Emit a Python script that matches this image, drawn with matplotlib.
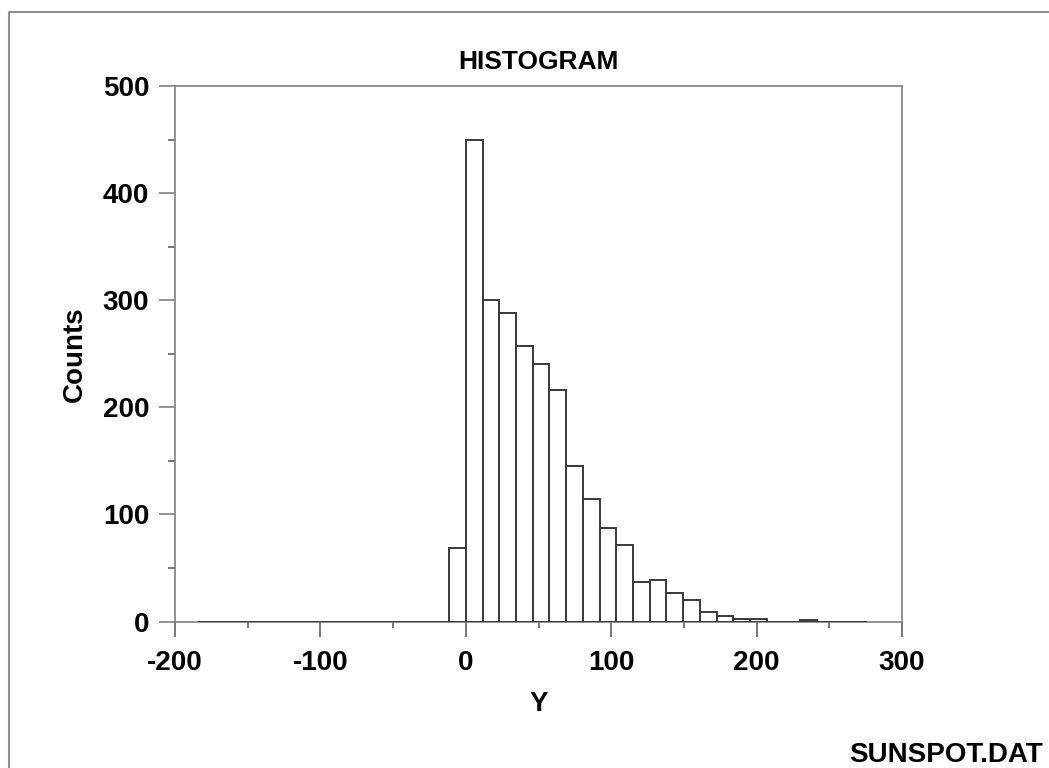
import numpy as np
import matplotlib
matplotlib.use("Agg")
import matplotlib.pyplot as plt
from matplotlib.lines import Line2D
from matplotlib.ticker import MultipleLocator

plt.rcParams['font.family'] = ['Liberation Sans', 'DejaVu Sans']
plt.rcParams['font.weight'] = 'bold'
plt.rcParams['axes.unicode_minus'] = False

# histogram of SUNSPOT.DAT, class width ~11.5, first class starts at -184
bin_width = 11.5
first_bin = -16
counts = [0, 0, 0, 0, 0, 0, 0, 0, 0, 0, 0, 0, 0, 0, 0,
          69, 450, 300, 288, 257, 240, 216, 145, 114, 87, 71,
          37, 39, 27, 20, 9, 5, 2, 2, 0, 0, 1, 0, 0, 0]
edges = (np.arange(len(counts)) + first_bin) * bin_width

x_ticks = [-200, -100, 0, 100, 200, 300]
y_ticks = [0, 100, 200, 300, 400, 500]

W, H = 1049, 768
fig = plt.figure(figsize=(W / 100, H / 100), dpi=100)
ax = fig.add_axes([175 / W, 1 - 621.5 / H, 727 / W, 535.5 / H])

ax.bar(edges, counts, width=bin_width, align='edge', facecolor='white',
       edgecolor='#383838', linewidth=1.4, zorder=3)

ax.set_xlim(-200, 300)
ax.set_ylim(0, 500)
ax.set_xticks(x_ticks)
ax.set_yticks(y_ticks)
ax.xaxis.set_minor_locator(MultipleLocator(50))
ax.yaxis.set_minor_locator(MultipleLocator(50))

for s in ax.spines.values():
    s.set_color('#808080')
    s.set_linewidth(1.2)

ax.tick_params(axis='x', which='major', direction='out', length=10.5, width=1.2,
               color='#606060', labelsize=20, pad=10)
ax.tick_params(axis='x', which='minor', direction='out', length=4.5, width=1.2,
               color='#606060')
ax.tick_params(axis='y', which='major', direction='out', length=11.5, width=1.2,
               color='#808080', labelsize=20, pad=7)
ax.tick_params(axis='y', which='minor', direction='out', length=5, width=1.2,
               color='#606060')

ax.set_xlabel('Y', fontsize=20, fontweight='bold', va='center')
ax.xaxis.set_label_coords(0.5, (621.5 - 704) / 535.5)
ax.set_ylabel('Counts', fontsize=20, fontweight='bold', va='center')
ax.yaxis.set_label_coords((75 - 175) / 727, 0.5)

ax.text(0.5, (621.5 - 62) / 535.5, 'HISTOGRAM', transform=ax.transAxes,
        ha='center', va='center', fontsize=19, fontweight='bold')
fig.text(1043 / W, 1 - 755 / H, 'SUNSPOT.DAT', ha='right', va='center',
         fontsize=20, fontweight='bold')

# page frame (top and left edges visible)
fig.add_artist(Line2D([9 / W, 9 / W, 1], [0, 1 - 12 / H, 1 - 12 / H],
                      transform=fig.transFigure, color='#909090', linewidth=1.5))

fig.savefig('out.png', dpi=100)
